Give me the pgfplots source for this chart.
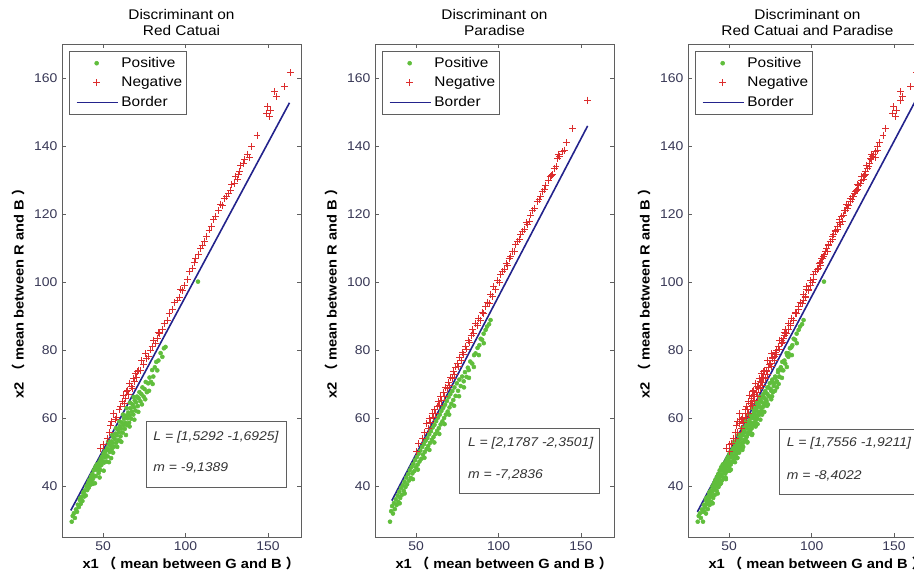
\documentclass[border=0pt]{standalone}
\usepackage{fontspec}
\setmainfont[FakeStretch=1.1]{Liberation Sans}
\newfontfamily\cjk{Noto Sans CJK SC}
\usepackage{pgfplots}
\usepackage{pgfplotstable}
\pgfplotsset{compat=1.18}

\definecolor{posgreen}{RGB}{96,190,60}
\definecolor{negred}{RGB}{220,45,45}
\definecolor{bordblue}{RGB}{35,35,140}
\definecolor{tickcol}{RGB}{55,55,85}
\definecolor{axcol}{RGB}{95,95,95}

% Red Catuai, positive samples
\pgfplotstableread{
x y
30.9 29.5
31.5 31.2
32.2 32.0
32.8 30.6
33.5 33.1
34.1 32.4
34.6 34.5
35.2 33.8
35.8 35.9
36.0 36.4
36.3 34.7
36.9 36.8
37.4 35.6
37.9 37.9
38.2 38.3
38.5 36.9
38.9 38.7
39.4 37.2
39.8 39.9
40.3 38.8
40.7 40.6
41.0 41.0
41.2 39.5
41.6 41.8
42.0 40.3
42.5 42.7
42.9 41.4
43.3 43.5
43.6 40.6
43.8 42.1
44.2 44.6
44.6 43.0
45.0 40.8
45.1 45.5
45.5 42.9
45.9 44.8
46.0 46.2
46.3 46.4
46.8 45.1
47.2 43.8
47.6 47.0
47.8 42.5
48.0 45.9
48.2 44.7
48.5 47.9
48.9 46.2
49.3 48.6
49.8 47.3
50.2 49.5
50.3 44.5
50.6 46.9
50.9 50.2
51.0 48.4
51.5 50.3
51.9 49.0
52.0 47.2
52.3 51.1
52.7 48.7
53.0 53.0
53.2 50.6
53.5 47.0
53.6 52.2
54.0 50.0
54.5 51.8
54.8 48.2
54.9 53.1
55.3 50.9
55.5 55.0
55.7 52.7
56.0 49.8
56.2 54.3
56.6 51.6
57.0 53.8
57.5 55.4
57.7 57.0
57.9 52.7
58.3 54.9
58.5 51.5
58.8 56.6
59.2 53.5
59.6 55.8
59.8 59.0
60.0 57.6
60.3 53.2
60.5 54.6
60.9 56.9
61.0 53.0
61.3 58.7
61.8 55.7
62.0 61.0
62.2 57.9
62.6 59.8
63.1 56.8
63.5 58.6
63.8 55.0
63.9 60.7
64.2 62.9
64.4 57.9
64.8 59.9
65.2 61.6
65.7 58.6
66.0 57.5
66.1 60.8
66.3 64.5
66.5 62.9
67.0 59.8
67.4 61.9
67.8 64.0
68.3 61.0
68.5 66.2
68.7 63.2
68.9 59.5
69.1 65.2
69.6 62.2
70.0 64.6
70.5 66.3
71.0 63.5
71.3 61.8
71.5 65.8
72.0 67.6
72.6 64.9
73.2 67.0
73.5 64.0
73.8 69.0
74.5 66.3
75.1 68.5
75.5 65.5
75.8 70.6
76.5 67.6
77.3 70.2
77.8 68.0
78.1 71.9
79.0 70.6
79.7 74.1
80.0 70.0
80.4 72.2
81.3 74.9
82.2 76.5
82.8 74.0
83.5 76.9
84.8 79.1
85.9 78.0
86.8 80.5
87.8 80.9
107.5 100.1
}\rcpos

% Red Catuai, negative samples
\pgfplotstableread{
x y
48.2 51.1
50.1 52.3
52.3 54.0
53.6 55.8
54.5 57.8
55.2 58.9
56.3 61.4
57.2 59.5
58.0 60.2
59.6 62.4
60.5 63.5
61.4 64.8
62.2 66.7
62.8 64.2
63.4 65.8
64.0 67.9
64.8 68.2
65.1 66.9
66.2 70.3
66.9 69.4
67.5 68.7
68.3 71.6
68.9 70.8
69.5 73.1
70.1 72.0
70.9 73.6
71.5 74.1
72.6 74.1
73.4 76.8
74.6 75.6
75.8 78.9
76.5 77.4
77.6 78.0
78.7 80.0
79.7 81.0
80.6 82.9
81.5 81.9
82.7 83.4
83.3 85.1
84.2 84.8
85.8 85.9
86.9 87.7
88.8 88.8
89.9 90.6
91.9 91.8
93.0 93.9
94.9 94.7
96.1 95.5
97.0 97.9
98.0 97.6
99.5 98.9
101.0 100.6
102.3 103.1
104.1 104.0
105.2 105.6
106.1 107.0
107.8 108.1
109.1 109.9
110.3 110.6
111.2 111.9
112.9 113.5
114.2 115.3
115.6 116.2
117.0 118.4
118.3 119.2
120.1 121.0
121.2 122.9
122.4 122.6
123.4 124.6
125.0 125.2
126.2 126.0
127.4 127.0
128.1 128.7
129.5 129.0
130.2 130.9
131.2 130.3
132.0 131.5
132.5 132.4
133.4 134.3
135.2 134.8
136.0 136.1
137.6 137.4
138.5 136.7
140.1 139.8
143.3 143.2
149.2 149.6
149.8 151.6
150.9 148.8
151.5 150.5
154.0 156.0
154.9 154.5
160.0 157.4
163.6 161.6
}\rcneg

% Paradise, positive samples
\pgfplotstableread{
x y
34.1 29.5
34.8 32.6
35.4 34.1
35.9 31.9
36.5 35.0
37.0 33.2
37.6 36.1
38.1 34.4
38.7 37.2
39.2 35.3
39.7 38.3
40.0 34.9
40.3 36.5
40.8 39.4
41.3 37.4
41.9 40.2
42.4 38.6
42.9 41.3
43.0 37.8
43.5 39.7
44.0 42.5
44.5 40.5
45.1 43.5
45.6 41.6
46.1 44.6
46.7 42.4
47.2 45.6
47.7 43.7
48.0 42.0
48.3 46.5
48.8 44.4
49.3 47.6
49.9 45.5
50.4 48.5
50.9 46.3
51.0 44.8
51.5 49.5
52.0 47.2
52.5 50.4
53.1 48.0
53.6 51.5
54.1 49.2
54.7 52.3
55.0 48.3
55.2 50.0
55.7 53.3
56.3 50.9
56.8 54.1
57.3 51.8
57.9 55.2
58.0 50.6
58.4 52.7
58.9 56.1
59.5 53.6
60.0 57.2
60.5 54.4
61.0 52.8
61.1 58.0
61.6 55.3
62.1 59.1
62.7 56.2
63.2 60.1
63.7 57.0
64.0 55.3
64.3 61.0
64.8 58.1
65.3 62.1
65.9 59.0
66.4 63.0
66.9 60.0
67.2 58.2
67.5 63.9
68.0 61.0
68.6 65.0
69.1 61.9
69.6 66.1
70.0 61.0
70.2 63.1
70.7 67.0
71.3 64.2
71.9 67.9
72.5 65.3
73.0 63.6
73.2 69.0
73.9 66.5
74.6 70.2
75.4 68.0
76.0 66.4
76.2 71.3
77.0 69.4
77.9 72.2
78.8 70.8
79.0 69.0
79.6 73.5
80.5 72.1
81.3 74.8
81.9 74.1
82.0 71.8
82.8 76.6
84.0 76.0
85.0 75.0
85.1 78.5
86.0 79.0
87.2 80.6
88.0 78.5
88.3 81.4
89.1 83.3
90.0 83.0
90.9 84.8
91.0 82.0
92.1 85.9
93.0 86.9
94.2 87.6
95.1 88.8
}\papos

% Paradise, negative samples
\pgfplotstableread{
x y
50.4 50.1
51.3 52.6
53.9 54.0
55.2 55.6
56.5 58.4
57.3 56.8
57.9 59.9
58.8 58.6
59.6 61.2
60.3 60.1
61.1 62.6
61.9 61.3
62.6 63.3
63.3 64.9
64.0 63.8
64.8 66.2
65.6 65.1
66.3 67.4
67.0 66.3
67.7 68.9
68.7 68.7
69.4 70.5
70.2 69.6
70.9 71.8
71.8 71.7
72.6 73.6
73.3 72.8
74.0 75.0
74.8 76.1
75.6 75.2
76.5 77.7
77.3 76.8
78.1 79.2
78.9 78.6
79.9 81.0
80.7 80.3
81.6 82.7
82.5 82.1
83.3 84.3
84.0 86.0
85.0 84.9
86.0 87.9
87.0 87.1
88.0 89.3
89.1 88.8
90.2 91.1
91.1 90.6
92.1 92.7
93.2 94.0
94.3 93.8
95.2 96.2
96.1 95.8
97.1 98.6
98.2 97.9
99.3 100.4
100.4 99.9
101.4 102.1
102.3 103.0
103.5 103.7
104.5 105.5
105.5 104.9
106.4 106.8
107.3 107.4
108.5 109.1
109.6 109.0
110.5 111.1
111.4 111.9
112.6 112.6
113.5 114.0
114.4 114.8
115.6 115.5
116.7 117.4
117.6 116.8
118.5 117.7
119.5 119.7
120.8 120.9
122.0 121.6
123.4 123.6
124.5 124.2
125.6 125.1
126.4 126.5
127.6 127.1
128.7 128.5
130.1 129.8
131.2 131.0
132.1 131.2
132.7 131.5
133.7 133.4
134.8 133.9
135.8 136.4
136.2 137.6
136.8 136.9
138.9 138.3
139.8 138.8
140.9 141.0
145.0 145.2
154.1 153.5
}\paneg

\pgfplotsset{
  panel/.style={
    scale only axis, width=179.25pt, height=369.75pt,
    xmin=25, xmax=170, ymin=25, ymax=170,
    xtick={50,100,150}, ytick={40,60,...,160},
    tick align=inside, major tick length=3pt,
    axis line style={axcol, line width=0.6pt},
    every tick/.style={axcol, line width=0.6pt},
    /pgf/number format/assume math mode=true,
    ticklabel style={font=\fontsize{9.5}{12}\selectfont, text=tickcol},
    title style={font=\fontsize{10.5}{11.5}\selectfont, align=center, yshift=-3pt},
    label style={font=\fontsize{10}{12}\selectfont\bfseries},
    xlabel style={xshift=7pt, yshift=2pt},
    xlabel={x1 {\cjk （} mean between G and B {\cjk ）}},
    ylabel={x2 {\cjk （} mean between R and B {\cjk ）}},
    legend style={at={(0.029,0.986)}, anchor=north west, draw=axcol,
      font=\fontsize{10.5}{12}\selectfont, inner xsep=1pt, inner ysep=2.5pt,
      row sep=1.5pt},
    legend cell align=left,
  },
  mypos/.style={only marks, mark=*, mark size=1.5pt, color=posgreen,
    mark options={draw=posgreen, fill=posgreen},
    legend image code/.code={\path (-4pt,0pt) (31pt,0pt);
      \fill[posgreen] (15pt,0pt) circle[radius=1.5pt];}},
  myneg/.style={only marks, mark=+, mark size=2.6pt, color=negred,
    mark options={draw=negred, line width=0.7pt},
    legend image code/.code={\path (-4pt,0pt) (31pt,0pt);
      \draw[negred, line width=0.6pt] (12.4pt,0pt) -- (17.6pt,0pt)
        (15pt,-2.6pt) -- (15pt,2.6pt);}},
  mybord/.style={no marks, color=bordblue, line width=1.2pt,
    legend image code/.code={\path (-4pt,0pt) (31pt,0pt);
      \draw[bordblue, line width=1pt] (0pt,0pt) -- (31pt,0pt);}},
}

\begin{document}
\begin{tikzpicture}
\path[use as bounding box] (0,0) rectangle (685.5pt,431.25pt);
\begin{scope}
\clip (0,0) rectangle (685.5pt,431.25pt);

\begin{axis}[panel, at={(46.5pt,28.5pt)}, anchor=south west,
  title={Discriminant on\\Red Catuai}]
\addplot[mypos] table {\rcpos};
\addplot[myneg] table {\rcneg};
\addplot[mybord] coordinates {(30.3,32.8) (163,152.7)};
\legend{Positive,Negative,Border}
\draw[axcol] (axis cs:76,58.9) rectangle (axis cs:161,39.5);
\node[anchor=base west, inner sep=0pt, text=black!80, font=\fontsize{9.5}{12}\selectfont\itshape] at (axis cs:80.3,53.5) {L = [1,5292 -1,6925]};
\node[anchor=base west, inner sep=0pt, text=black!80, font=\fontsize{9.5}{12}\selectfont\itshape] at (axis cs:80.3,44.2) {m = -9,1389};
\end{axis}

\begin{axis}[panel, at={(281.25pt,28.5pt)}, anchor=south west,
  title={Discriminant on\\Paradise}]
\addplot[mypos] table {\papos};
\addplot[myneg] table {\paneg};
\addplot[mybord] coordinates {(35.2,35.7) (154,145.9)};
\legend{Positive,Negative,Border}
\draw[axcol] (axis cs:76.2,57.1) rectangle (axis cs:161.2,37.9);
\node[anchor=base west, inner sep=0pt, text=black!80, font=\fontsize{9.5}{12}\selectfont\itshape] at (axis cs:81.3,51.6) {L = [2,1787 -2,3501]};
\node[anchor=base west, inner sep=0pt, text=black!80, font=\fontsize{9.5}{12}\selectfont\itshape] at (axis cs:81.3,42.3) {m = -7,2836};
\end{axis}

\begin{axis}[panel, at={(516pt,28.5pt)}, anchor=south west,
  title={Discriminant on\\Red Catuai and Paradise}]
\addplot[mypos] table {\rcpos};
\addplot[myneg] table {\rcneg};
\addplot[mybord] coordinates {(30.7,32.4) (164,154.2)};
\addplot[mypos, forget plot] table {\papos};
\addplot[myneg, forget plot] table {\paneg};
\legend{Positive,Negative,Border}
\draw[axcol] (axis cs:80.3,56.7) rectangle (axis cs:165,37.6);
\node[anchor=base west, inner sep=0pt, text=black!80, font=\fontsize{9.5}{12}\selectfont\itshape] at (axis cs:84.8,51.6) {L = [1,7556 -1,9211]};
\node[anchor=base west, inner sep=0pt, text=black!80, font=\fontsize{9.5}{12}\selectfont\itshape] at (axis cs:84.8,42) {m = -8,4022};
\end{axis}
\end{scope}
\end{tikzpicture}
\end{document}
